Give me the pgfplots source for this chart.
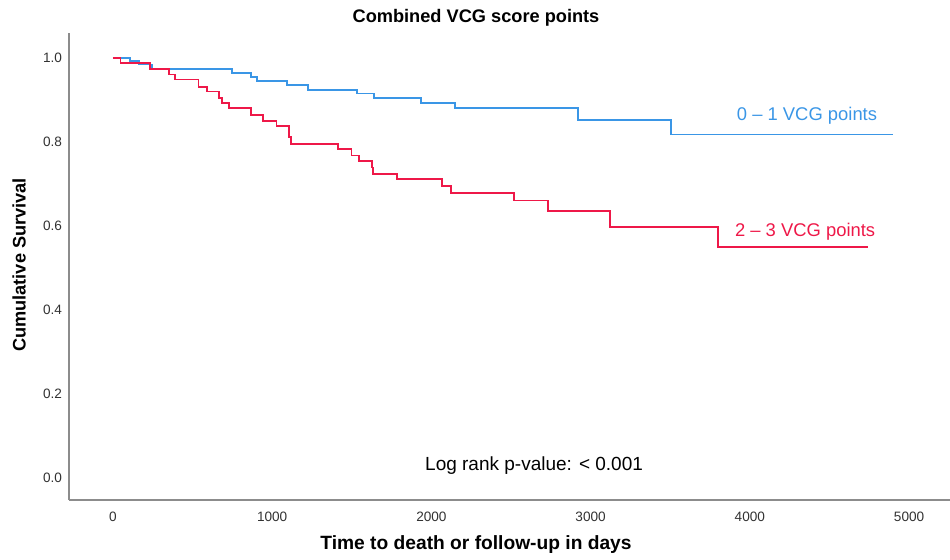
\documentclass[border=0pt]{standalone}
\usepackage{pgfplots}
\pgfplotsset{compat=1.18}
\usepackage{fontspec}
\setmainfont{Liberation Sans}
\definecolor{kmblue}{RGB}{58,150,230}
\definecolor{kmred}{RGB}{238,24,72}
\definecolor{axgray}{RGB}{140,140,140}
\definecolor{txtgray}{RGB}{50,50,50}
\begin{document}
\begin{tikzpicture}
\useasboundingbox (-34.5pt,-30pt) rectangle (440.5pt,250pt);
\begin{axis}[
  at={(0,0)}, anchor=south west,
  scale only axis,
  width=440.5pt, height=233.5pt,
  xmin=-276, xmax=5257,
  ymin=-0.052, ymax=1.060,
  axis x line*=bottom, axis y line*=left,
  axis line style={draw=axgray, line width=0.7pt, -},
  major tick length=0pt,
  xtick={0,1000,2000,3000,4000,5000},
  ytick={0,0.2,0.4,0.6,0.8,1.0},
  scaled x ticks=false,
  xticklabel style={font=\fontsize{6.8}{8}\selectfont, text=txtgray, yshift=-2.5pt},
  yticklabel style={font=\fontsize{6.8}{8}\selectfont, text=txtgray, /pgf/number format/fixed, /pgf/number format/fixed zerofill, /pgf/number format/precision=1},
  xticklabel={\pgfmathprintnumber[fixed,1000 sep={}]{\tick}},
  /pgf/number format/assume math mode=true,
  clip=false,
]
\addplot[const plot, kmblue, line width=0.85pt] coordinates {
(0,1.0) (107,0.994) (165,0.985) (247,0.975) (749,0.965) (865,0.955)
(903,0.946) (1095,0.936) (1223,0.925) (1533,0.916) (1640,0.905)
(1935,0.893) (2148,0.881) (2919,0.853) (3505,0.818) (4898,0.818)
};
\addplot[const plot, kmred, line width=0.85pt] coordinates {
(0,1.0) (48,0.989) (232,0.975) (354,0.961) (390,0.949) (538,0.932)
(589,0.921) (666,0.905) (683,0.894) (729,0.881) (865,0.864) (944,0.850)
(1028,0.838) (1106,0.813) (1118,0.796) (1415,0.783) (1499,0.768)
(1545,0.756) (1625,0.740) (1635,0.725) (1782,0.713) (2068,0.695)
(2121,0.679) (2519,0.661) (2734,0.636) (3122,0.598) (3798,0.551)
(4744,0.551)
};
\node[text=kmblue, font=\fontsize{9.2}{11}\selectfont] at (axis cs:4359,0.864) {0 – 1 VCG points};
\node[text=kmred, font=\fontsize{9.2}{11}\selectfont] at (axis cs:4347,0.586) {2 – 3 VCG points};
\node[text=black, font=\fontsize{9.5}{11}\selectfont] at (axis cs:2645,0.031) {Log rank p-value: < 0.001};
\end{axis}
\node[font=\bfseries\fontsize{9.1}{11}\selectfont] at (203.5pt,241pt) {Combined VCG score points};
\node[font=\bfseries\fontsize{9.6}{11}\selectfont] at (203.5pt,-22.5pt) {Time to death or follow-up in days};
\node[font=\bfseries\fontsize{9.1}{11}\selectfont, rotate=90] at (-25pt,117.5pt) {Cumulative Survival};
\end{tikzpicture}
\end{document}
